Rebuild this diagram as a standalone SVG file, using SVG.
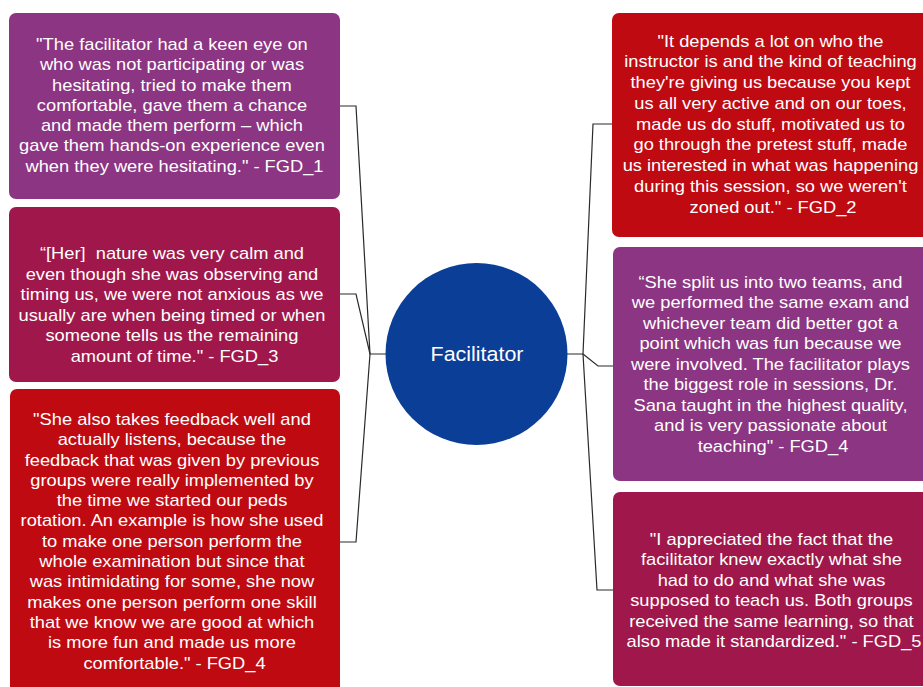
<svg xmlns="http://www.w3.org/2000/svg" width="923" height="687" viewBox="0 0 923 687">
<style>
.purple{fill:#8C3582}
.crimson{fill:#A0184B}
.red{fill:#BF0A12}
.q{font-family:"Liberation Sans",Arial,Helvetica,sans-serif;font-size:15.7px;fill:#ffffff;text-anchor:middle}
.hub{font-family:"Liberation Sans",Arial,Helvetica,sans-serif;font-size:19.5px;fill:#ffffff;text-anchor:middle}
.conn{fill:none;stroke:#2a2a2a;stroke-width:1.2}
</style>
<rect width="923" height="687" fill="#ffffff"/>
<g id="connectors">
<path class="conn" d="M340,106 H356 L370,354 H386"/>
<path class="conn" d="M340,294 H356 L370,354"/>
<path class="conn" d="M340,542 H356 L370,354"/>
<path class="conn" d="M566,354 H583 L593,124 H612"/>
<path class="conn" d="M583,354 L598,366 H613"/>
<path class="conn" d="M583,354 L597,590 H613"/>
</g>
<g id="facilitator">
<circle cx="476.5" cy="354" r="91" fill="#0B3E97"/>
<text class="hub" transform="translate(477 0) scale(1.1 1)" x="0" y="361">Facilitator</text>
</g>
<g id="quote-fgd1">
<rect class="purple" x="9" y="13" width="331" height="186" rx="7"/>
<text class="q" transform="translate(174.5 0) scale(1.165 1)">
<tspan x="0" y="50">"The facilitator had a keen eye on</tspan>
<tspan x="0" dy="20.3">who was not participating or was</tspan>
<tspan x="0" dy="20.3">hesitating, tried to make them</tspan>
<tspan x="0" dy="20.3">comfortable, gave them a chance</tspan>
<tspan x="0" dy="20.3">and made them perform – which</tspan>
<tspan x="0" dy="20.3">gave them hands-on experience even</tspan>
<tspan x="0" dy="20.3">when they were hesitating." - FGD_1</tspan>
</text>
</g>
<g id="quote-fgd3">
<rect class="crimson" x="9" y="207" width="331" height="175" rx="7"/>
<text class="q" transform="translate(174.5 0) scale(1.165 1)">
<tspan x="0" y="259.5">“[Her]&#160; nature was very calm and</tspan>
<tspan x="0" dy="20.5">even though she was observing and</tspan>
<tspan x="0" dy="20.5">timing us, we were not anxious as we</tspan>
<tspan x="0" dy="20.5">usually are when being timed or when</tspan>
<tspan x="0" dy="20.5">someone tells us the remaining</tspan>
<tspan x="0" dy="20.5">amount of time." - FGD_3</tspan>
</text>
</g>
<g id="quote-fgd4a">
<rect class="red" x="10" y="389" width="330" height="310" rx="7"/>
<text class="q" transform="translate(174.5 0) scale(1.165 1)">
<tspan x="0" y="425">"She also takes feedback well and</tspan>
<tspan x="0" dy="20.3">actually listens, because the</tspan>
<tspan x="0" dy="20.3">feedback that was given by previous</tspan>
<tspan x="0" dy="20.3">groups were really implemented by</tspan>
<tspan x="0" dy="20.3">the time we started our peds</tspan>
<tspan x="0" dy="20.3">rotation. An example is how she used</tspan>
<tspan x="0" dy="20.3">to make one person perform the</tspan>
<tspan x="0" dy="20.3">whole examination but since that</tspan>
<tspan x="0" dy="20.3">was intimidating for some, she now</tspan>
<tspan x="0" dy="20.3">makes one person perform one skill</tspan>
<tspan x="0" dy="20.3">that we know we are good at which</tspan>
<tspan x="0" dy="20.3">is more fun and made us more</tspan>
<tspan x="0" dy="20.3">comfortable." - FGD_4</tspan>
</text>
</g>
<g id="quote-fgd2">
<rect class="red" x="612" y="13" width="330" height="224" rx="7"/>
<text class="q" transform="translate(773 0) scale(1.165 1)">
<tspan x="0" y="46.7">"It depends a lot on who the</tspan>
<tspan x="0" dy="20.75">instructor is and the kind of teaching</tspan>
<tspan x="0" dy="20.75">they're giving us because you kept</tspan>
<tspan x="0" dy="20.75">us all very active and on our toes,</tspan>
<tspan x="0" dy="20.75">made us do stuff, motivated us to</tspan>
<tspan x="0" dy="20.75">go through the pretest stuff, made</tspan>
<tspan x="0" dy="20.75">us interested in what was happening</tspan>
<tspan x="0" dy="20.75">during this session, so we weren't</tspan>
<tspan x="0" dy="20.75">zoned out." - FGD_2</tspan>
</text>
</g>
<g id="quote-fgd4b">
<rect class="purple" x="613" y="247" width="330" height="234" rx="7"/>
<text class="q" transform="translate(773 0) scale(1.165 1)">
<tspan x="0" y="288">“She split us into two teams, and</tspan>
<tspan x="0" dy="20.45">we performed the same exam and</tspan>
<tspan x="0" dy="20.45">whichever team did better got a</tspan>
<tspan x="0" dy="20.45">point which was fun because we</tspan>
<tspan x="0" dy="20.45">were involved. The facilitator plays</tspan>
<tspan x="0" dy="20.45">the biggest role in sessions, Dr.</tspan>
<tspan x="0" dy="20.45">Sana taught in the highest quality,</tspan>
<tspan x="0" dy="20.45">and is very passionate about</tspan>
<tspan x="0" dy="20.45">teaching" - FGD_4</tspan>
</text>
</g>
<g id="quote-fgd5">
<rect class="crimson" x="613" y="492" width="330" height="194" rx="7"/>
<text class="q" transform="translate(774 0) scale(1.165 1)">
<tspan x="0" y="545">"I appreciated the fact that the</tspan>
<tspan x="0" dy="20.5">facilitator knew exactly what she</tspan>
<tspan x="0" dy="20.5">had to do and what she was</tspan>
<tspan x="0" dy="20.5">supposed to teach us. Both groups</tspan>
<tspan x="0" dy="20.5">received the same learning, so that</tspan>
<tspan x="0" dy="20.5">also made it standardized." - FGD_5</tspan>
</text>
</g>
</svg>
